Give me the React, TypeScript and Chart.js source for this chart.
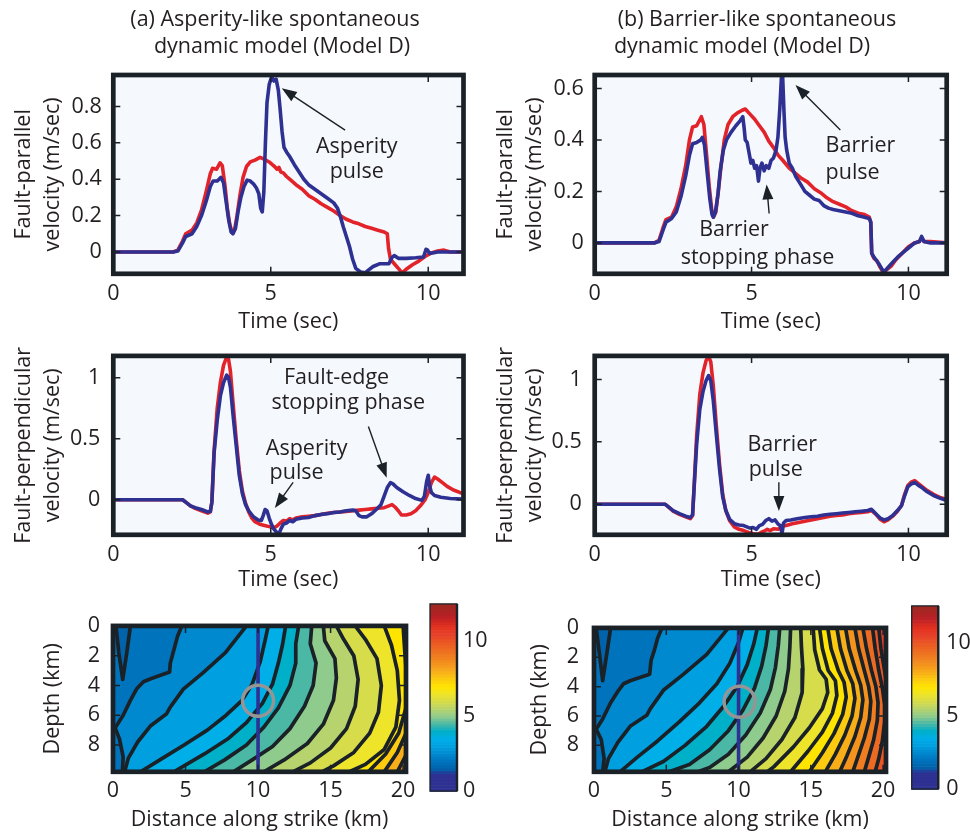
import React, { useEffect, useRef } from 'react';
import { Chart, registerables } from 'chart.js';
Chart.register(...registerables);

const FONT = '"Open Sans", "Noto Sans", sans-serif';
const FS = 21.5;
const INK = '#231f20';
const FRAME = '#1a2228';
const RED = '#e3232a';
const BLUE = '#2e3192';
const BG = '#f5f9fd';

type Pt = [number, number];

// ---------- axis ticks ----------
const timeTicks = [0, 5, 10];
const parTicksA = [0, 0.2, 0.4, 0.6, 0.8];
const parTicksB = [0, 0.2, 0.4, 0.6];
const perpTicks = [0, 0.5, 1];
const distTicks = [0, 5, 10, 15, 20];
const depthTicks = [0, 2, 4, 6, 8];
const cbarTicks = [0, 5, 10];

// ---------- (a) fault-parallel velocity ----------
const aParRed: Pt[] = [[0,0],[1.9,0],[2.05,0.01],[2.2,0.06],[2.3,0.1],[2.5,0.12],[2.65,0.16],[2.8,0.23],[2.96,0.34],[3.08,0.43],[3.15,0.46],[3.28,0.455],[3.39,0.49],[3.46,0.475],[3.55,0.36],[3.62,0.24],[3.7,0.15],[3.78,0.105],[3.85,0.12],[3.93,0.2],[4.02,0.31],[4.12,0.41],[4.23,0.47],[4.35,0.495],[4.5,0.505],[4.66,0.52],[4.8,0.51],[4.95,0.495],[5.05,0.48],[5.12,0.47],[5.2,0.455],[5.26,0.465],[5.32,0.44],[5.4,0.435],[5.5,0.415],[5.6,0.4],[5.7,0.385],[5.8,0.37],[6.0,0.345],[6.2,0.31],[6.4,0.29],[6.6,0.265],[6.8,0.245],[7.0,0.225],[7.2,0.2],[7.4,0.18],[7.6,0.165],[7.8,0.155],[8.0,0.14],[8.2,0.13],[8.4,0.12],[8.6,0.11],[8.7,0.1],[8.74,0.02],[8.8,-0.04],[8.95,-0.07],[9.1,-0.1],[9.18,-0.115],[9.3,-0.095],[9.5,-0.07],[9.7,-0.05],[9.9,-0.025],[10.1,-0.005],[10.3,0.005],[10.5,0.01],[10.7,0.0],[11.12,0.0]];
const aParBlue: Pt[] = [[0,0],[1.9,0],[2.05,0.005],[2.2,0.05],[2.3,0.085],[2.5,0.1],[2.65,0.14],[2.8,0.2],[2.96,0.285],[3.08,0.36],[3.17,0.39],[3.3,0.39],[3.42,0.41],[3.5,0.38],[3.58,0.28],[3.66,0.18],[3.74,0.11],[3.8,0.1],[3.88,0.13],[3.96,0.22],[4.05,0.3],[4.15,0.36],[4.25,0.395],[4.35,0.39],[4.45,0.375],[4.55,0.35],[4.62,0.32],[4.68,0.24],[4.73,0.22],[4.78,0.33],[4.83,0.6],[4.88,0.82],[4.95,0.92],[5.03,0.965],[5.1,0.94],[5.17,0.95],[5.24,0.89],[5.3,0.78],[5.36,0.66],[5.42,0.575],[5.5,0.55],[5.6,0.525],[5.75,0.48],[5.9,0.44],[6.05,0.4],[6.2,0.37],[6.4,0.345],[6.6,0.32],[6.8,0.295],[7.0,0.27],[7.12,0.24],[7.2,0.2],[7.3,0.14],[7.4,0.085],[7.5,0.03],[7.6,-0.04],[7.7,-0.09],[7.85,-0.11],[8.0,-0.115],[8.1,-0.1],[8.25,-0.08],[8.45,-0.065],[8.75,-0.065],[8.85,-0.03],[8.92,-0.02],[9.05,-0.035],[9.3,-0.035],[9.6,-0.032],[9.85,-0.028],[9.93,0.015],[9.98,0.01],[10.05,-0.008],[10.3,0.0],[11.12,0.0]];

// ---------- (b) fault-parallel velocity ----------
const bParRed: Pt[] = [[0,0],[1.9,0],[2.05,0.01],[2.18,0.06],[2.27,0.09],[2.45,0.1],[2.6,0.14],[2.75,0.21],[2.9,0.3],[3.02,0.4],[3.12,0.45],[3.25,0.455],[3.4,0.49],[3.48,0.46],[3.56,0.35],[3.65,0.22],[3.73,0.13],[3.79,0.1],[3.86,0.12],[3.94,0.2],[4.03,0.3],[4.13,0.4],[4.25,0.46],[4.4,0.49],[4.55,0.505],[4.7,0.515],[4.8,0.52],[4.95,0.5],[5.1,0.48],[5.25,0.455],[5.4,0.43],[5.55,0.395],[5.7,0.37],[5.85,0.34],[6.0,0.32],[6.2,0.29],[6.4,0.27],[6.6,0.25],[6.8,0.235],[7.0,0.21],[7.2,0.195],[7.4,0.175],[7.6,0.16],[7.8,0.15],[8.0,0.14],[8.2,0.125],[8.4,0.115],[8.6,0.11],[8.75,0.1],[8.8,0.08],[8.83,-0.04],[8.9,-0.06],[9.0,-0.07],[9.1,-0.095],[9.2,-0.115],[9.3,-0.105],[9.45,-0.09],[9.6,-0.065],[9.8,-0.04],[10.0,-0.015],[10.2,0.0],[10.35,0.005],[10.42,0.02],[10.5,0.005],[10.7,0.005],[11.22,0.0]];
const bParBlue: Pt[] = [[0,0],[1.9,0],[2.05,0.005],[2.18,0.05],[2.27,0.08],[2.45,0.095],[2.6,0.12],[2.75,0.18],[2.9,0.26],[3.02,0.34],[3.12,0.385],[3.25,0.39],[3.38,0.4],[3.43,0.41],[3.5,0.38],[3.58,0.28],[3.67,0.17],[3.74,0.11],[3.78,0.1],[3.85,0.12],[3.93,0.19],[4.0,0.28],[4.1,0.36],[4.2,0.4],[4.35,0.43],[4.5,0.455],[4.64,0.475],[4.72,0.49],[4.76,0.45],[4.8,0.4],[4.86,0.39],[4.92,0.35],[4.98,0.31],[5.04,0.32],[5.1,0.29],[5.16,0.3],[5.22,0.24],[5.27,0.29],[5.33,0.31],[5.4,0.28],[5.47,0.3],[5.55,0.29],[5.62,0.32],[5.7,0.33],[5.78,0.36],[5.84,0.41],[5.9,0.52],[5.95,0.64],[5.99,0.65],[6.03,0.52],[6.07,0.41],[6.12,0.36],[6.2,0.31],[6.3,0.29],[6.4,0.26],[6.55,0.23],[6.7,0.2],[6.85,0.185],[7.0,0.17],[7.15,0.165],[7.3,0.145],[7.45,0.135],[7.6,0.13],[7.8,0.125],[8.0,0.12],[8.2,0.115],[8.4,0.105],[8.6,0.1],[8.75,0.095],[8.8,0.08],[8.83,-0.04],[8.9,-0.055],[9.05,-0.08],[9.15,-0.1],[9.22,-0.113],[9.35,-0.095],[9.5,-0.075],[9.7,-0.05],[9.9,-0.03],[10.05,-0.015],[10.2,0.0],[10.35,0.005],[10.42,0.025],[10.5,0.005],[10.7,0.0],[11.22,0.0]];

// ---------- (a) fault-perpendicular velocity ----------
const aPerpRed: Pt[] = [[0,0],[2.2,0],[2.3,-0.02],[2.45,-0.05],[2.6,-0.07],[2.8,-0.09],[3.0,-0.11],[3.08,-0.1],[3.13,-0.02],[3.2,0.4],[3.3,0.75],[3.4,0.96],[3.5,1.1],[3.6,1.17],[3.66,1.15],[3.72,1.05],[3.8,0.8],[3.9,0.5],[4.0,0.24],[4.1,0.07],[4.2,-0.03],[4.3,-0.1],[4.4,-0.15],[4.5,-0.18],[4.65,-0.2],[4.8,-0.21],[4.95,-0.22],[5.1,-0.23],[5.2,-0.215],[5.3,-0.19],[5.4,-0.17],[5.5,-0.175],[5.6,-0.155],[5.7,-0.165],[5.8,-0.15],[6.0,-0.14],[6.2,-0.135],[6.4,-0.13],[6.6,-0.12],[6.8,-0.11],[7.0,-0.105],[7.2,-0.1],[7.4,-0.095],[7.6,-0.09],[7.8,-0.085],[8.0,-0.08],[8.2,-0.075],[8.4,-0.07],[8.6,-0.065],[8.75,-0.05],[8.85,-0.04],[8.95,-0.06],[9.05,-0.09],[9.15,-0.125],[9.3,-0.125],[9.45,-0.115],[9.6,-0.09],[9.75,-0.05],[9.9,0.0],[10.0,0.06],[10.1,0.14],[10.2,0.185],[10.3,0.17],[10.45,0.14],[10.6,0.11],[10.8,0.08],[11.0,0.06],[11.12,0.05]];
const aPerpBlue: Pt[] = [[0,0],[2.2,0],[2.3,-0.02],[2.45,-0.05],[2.6,-0.065],[2.8,-0.08],[3.0,-0.1],[3.08,-0.095],[3.13,-0.02],[3.2,0.38],[3.3,0.65],[3.4,0.85],[3.5,0.96],[3.6,1.02],[3.66,1.0],[3.72,0.92],[3.8,0.7],[3.9,0.45],[4.0,0.2],[4.1,0.05],[4.2,-0.04],[4.3,-0.09],[4.45,-0.14],[4.6,-0.165],[4.7,-0.17],[4.76,-0.13],[4.82,-0.08],[4.88,-0.09],[4.95,-0.15],[5.02,-0.2],[5.1,-0.24],[5.2,-0.27],[5.26,-0.28],[5.32,-0.24],[5.4,-0.2],[5.5,-0.19],[5.6,-0.17],[5.7,-0.18],[5.8,-0.16],[6.0,-0.15],[6.2,-0.145],[6.4,-0.13],[6.6,-0.12],[6.8,-0.115],[7.0,-0.105],[7.2,-0.1],[7.4,-0.09],[7.6,-0.085],[7.7,-0.09],[7.8,-0.13],[7.9,-0.14],[8.05,-0.14],[8.2,-0.115],[8.35,-0.08],[8.5,-0.04],[8.6,0.03],[8.7,0.1],[8.8,0.14],[8.88,0.13],[9.0,0.1],[9.2,0.065],[9.4,0.035],[9.6,0.01],[9.8,-0.005],[9.88,0.03],[9.95,0.15],[10.0,0.2],[10.04,0.12],[10.1,0.06],[10.2,0.035],[10.4,0.02],[10.7,0.01],[11.12,0.005]];

// ---------- (b) fault-perpendicular velocity ----------
const bPerpRed: Pt[] = [[0,0],[2.25,0],[2.35,-0.02],[2.5,-0.055],[2.7,-0.08],[2.9,-0.1],[3.05,-0.115],[3.12,-0.09],[3.18,0.2],[3.25,0.55],[3.35,0.88],[3.45,1.05],[3.55,1.15],[3.63,1.185],[3.7,1.14],[3.78,0.95],[3.88,0.62],[3.98,0.32],[4.08,0.08],[4.18,-0.05],[4.3,-0.13],[4.45,-0.18],[4.6,-0.2],[4.75,-0.21],[4.9,-0.225],[5.05,-0.235],[5.2,-0.24],[5.3,-0.225],[5.4,-0.215],[5.5,-0.2],[5.6,-0.21],[5.7,-0.195],[5.85,-0.2],[5.95,-0.175],[6.1,-0.17],[6.3,-0.155],[6.5,-0.145],[6.7,-0.135],[6.9,-0.125],[7.1,-0.115],[7.3,-0.105],[7.5,-0.095],[7.7,-0.09],[7.9,-0.085],[8.1,-0.075],[8.3,-0.07],[8.5,-0.065],[8.7,-0.06],[8.82,-0.05],[8.9,-0.065],[9.0,-0.09],[9.1,-0.12],[9.22,-0.14],[9.35,-0.125],[9.5,-0.095],[9.65,-0.055],[9.78,-0.01],[9.88,0.08],[9.98,0.15],[10.1,0.18],[10.2,0.19],[10.3,0.17],[10.45,0.14],[10.6,0.11],[10.8,0.08],[11.0,0.055],[11.22,0.04]];
const bPerpBlue: Pt[] = [[0,0],[2.25,0],[2.35,-0.02],[2.5,-0.05],[2.7,-0.075],[2.9,-0.095],[3.05,-0.105],[3.12,-0.085],[3.18,0.18],[3.25,0.48],[3.35,0.76],[3.45,0.9],[3.55,0.99],[3.63,1.03],[3.7,0.99],[3.78,0.83],[3.88,0.55],[3.98,0.28],[4.08,0.06],[4.18,-0.05],[4.3,-0.12],[4.45,-0.155],[4.6,-0.165],[4.75,-0.17],[4.85,-0.18],[4.95,-0.19],[5.05,-0.185],[5.15,-0.2],[5.25,-0.17],[5.35,-0.16],[5.45,-0.13],[5.55,-0.115],[5.65,-0.135],[5.75,-0.125],[5.85,-0.16],[5.92,-0.17],[5.97,-0.235],[6.02,-0.15],[6.1,-0.13],[6.25,-0.125],[6.45,-0.115],[6.7,-0.105],[6.9,-0.1],[7.1,-0.095],[7.3,-0.085],[7.5,-0.08],[7.7,-0.075],[7.9,-0.07],[8.1,-0.065],[8.3,-0.06],[8.5,-0.055],[8.7,-0.05],[8.82,-0.04],[8.9,-0.06],[9.0,-0.085],[9.1,-0.11],[9.22,-0.125],[9.35,-0.115],[9.5,-0.09],[9.65,-0.05],[9.78,-0.01],[9.88,0.07],[9.98,0.14],[10.1,0.165],[10.2,0.175],[10.3,0.155],[10.45,0.13],[10.6,0.1],[10.8,0.07],[11.0,0.05],[11.22,0.03]];

// ---------- rupture-time contours: [level (s), polyline (km along strike, km depth)] ----------
const contoursA: [number, Pt[]][] = [
  [2.0, [[0.2,0],[0.4,1.8],[0.67,3.6],[0.95,1.8],[1.2,0]]],
  [2.5, [[4.75,0],[4.45,0.7],[4.2,1.6],[3.95,2.5],[3.9,3.1],[2.6,3.55],[2.1,3.75],[1.65,4.2],[1.2,5.0],[0.7,6.0],[0.15,6.85],[0.45,7.6],[0.7,8.8],[0.65,9.8]]],
  [3.0, [[9.2,0],[7.75,1.8],[6.2,3.15],[4.85,4.25],[3.95,5.45],[3.7,5.9],[2.6,6.7],[1.7,7.8],[1.05,8.9],[0.8,9.8]]],
  [3.5, [[10.7,0],[10.5,0.9],[10.15,2.4],[9.6,3.9],[8.9,5.0],[7.8,6.0],[6.5,7.0],[4.9,8.0],[3.4,8.9],[1.9,9.8]]],
  [4.0, [[11.9,0],[11.7,1.2],[11.4,2.5],[11.0,3.9],[10.3,5.2],[9.2,6.5],[7.9,7.6],[6.3,8.6],[4.2,9.8]]],
  [4.5, [[12.8,0],[12.6,1.2],[12.6,2.5],[12.2,4.0],[11.4,5.5],[10.4,6.8],[9.2,8.0],[7.7,9.0],[6.3,9.8]]],
  [5.0, [[13.7,0],[13.6,1.2],[14.0,2.5],[13.8,4.0],[13.2,5.4],[12.2,6.9],[11.0,8.1],[9.6,9.0],[8.3,9.8]]],
  [5.5, [[14.5,0],[14.6,1.0],[15.3,2.2],[15.4,3.5],[15.2,5.0],[14.5,6.6],[13.4,7.9],[11.8,9.0],[10.4,9.8]]],
  [6.0, [[15.4,0],[15.9,0.9],[16.6,2.0],[16.9,3.6],[16.7,5.4],[16.1,6.9],[15.0,8.2],[13.6,9.2],[12.4,9.8]]],
  [6.5, [[16.7,0],[17.4,0.9],[18.2,2.2],[18.5,4.0],[18.3,5.8],[17.7,7.2],[16.6,8.5],[15.2,9.4],[14.4,9.8]]],
  [7.0, [[18.7,0],[19.2,1.3],[19.6,3.0],[19.75,5.0],[19.5,6.8],[18.7,8.3],[17.4,9.3],[16.3,9.8]]],
  [7.5, [[20.0,0],[20.1,1.5],[20.25,3.5],[20.2,5.5],[19.7,7.2],[18.8,8.6],[17.6,9.8]]],
  [8.0, [[21.5,0],[21.0,5.0],[20.3,7.0],[19.6,8.5],[18.7,9.8]]],
  [8.5, [[22.0,0],[21.5,6.0],[20.3,8.5],[19.6,9.8]]],
];
const contoursB: [number, Pt[]][] = [
  [2.0, [[0.15,0],[0.38,1.8],[0.6,3.6],[0.88,1.8],[1.15,0]]],
  [2.5, [[4.7,0],[4.4,0.7],[4.15,1.6],[3.95,2.2],[3.85,3.15],[2.5,3.6],[2.05,3.8],[1.7,4.25],[1.15,5.1],[0.6,6.2],[0.15,6.9],[0.5,7.6],[0.7,8.9],[0.6,9.8]]],
  [3.0, [[9.3,0],[7.8,1.8],[6.2,3.15],[4.8,4.25],[3.9,5.5],[3.65,5.95],[2.5,6.7],[1.65,7.8],[1.0,8.9],[0.75,9.8]]],
  [3.5, [[10.3,0],[10.0,1.0],[9.4,2.4],[8.5,3.8],[7.3,5.1],[5.9,6.4],[4.4,7.7],[3.0,8.8],[1.8,9.8]]],
  [4.0, [[11.3,0],[11.05,1.1],[10.6,2.5],[9.9,4.0],[9.0,5.3],[7.8,6.7],[6.3,8.0],[4.8,9.1],[3.3,9.8]]],
  [4.5, [[12.07,0],[11.9,1.2],[11.6,2.6],[11.1,4.1],[10.3,5.6],[9.3,7.0],[8.0,8.3],[6.6,9.3],[5.2,9.8]]],
  [5.0, [[12.85,0],[12.75,1.2],[12.55,2.7],[12.2,4.2],[11.5,5.8],[10.5,7.3],[9.3,8.6],[8.0,9.5],[7.2,9.8]]],
  [5.5, [[13.6,0],[13.55,1.3],[13.45,2.8],[13.2,4.3],[12.6,6.0],[11.7,7.5],[10.6,8.8],[9.3,9.8]]],
  [6.0, [[14.3,0],[14.35,1.3],[14.45,2.8],[14.4,4.4],[13.9,6.1],[13.0,7.6],[11.9,8.9],[10.8,9.8]]],
  [6.5, [[15.16,0],[15.27,1.5],[15.6,2.87],[16.06,3.5],[16.17,4.4],[15.8,5.5],[14.9,6.8],[13.8,8.1],[12.45,9.45],[12.0,9.8]]],
  [7.0, [[15.6,0],[15.8,1.4],[16.2,2.9],[16.7,3.6],[16.8,4.6],[16.5,5.8],[15.8,7.1],[14.8,8.4],[13.6,9.8]]],
  [7.5, [[16.17,0],[16.4,1.4],[16.9,2.9],[17.3,3.7],[17.45,4.7],[17.2,5.9],[16.6,7.2],[15.8,8.5],[14.9,9.8]]],
  [8.0, [[16.8,0],[17.05,1.4],[17.5,2.9],[17.9,3.8],[18.05,4.8],[17.85,6.0],[17.35,7.3],[16.7,8.6],[16.0,9.8]]],
  [8.5, [[17.4,0],[17.65,1.4],[18.1,2.9],[18.45,3.9],[18.6,4.9],[18.45,6.1],[18.05,7.4],[17.5,8.7],[17.0,9.8]]],
  [9.0, [[18.05,0],[18.3,1.4],[18.7,2.9],[19.0,4.0],[19.15,5.0],[19.05,6.2],[18.7,7.5],[18.25,8.8],[17.9,9.8]]],
  [9.5, [[18.6,0],[18.85,1.4],[19.2,2.9],[19.5,4.0],[19.65,5.1],[19.6,6.3],[19.35,7.6],[19.0,8.8],[18.7,9.8]]],
  [10.0, [[19.27,0],[19.45,1.4],[19.7,2.9],[19.95,4.1],[20.1,5.2],[20.1,6.4],[19.95,7.7],[19.7,8.9],[19.45,9.8]]],
  [10.5, [[19.7,0],[19.85,1.4],[20.1,2.9],[20.3,4.1],[20.5,5.2],[20.6,6.4],[20.5,7.7],[20.3,8.9],[20.1,9.8]]],
];
// station line (km along strike) and marker circles (km along strike, km depth)
const stationX = 10.0;
const hypoMarkA: Pt = [10.0, 5.03];
const hypoMarkB: Pt = [10.07, 5.03];

// colour map of rupture time (s)
const cmapStops: [number, string][] = [
  [0, '#2e3192'], [1.15, '#2e3192'], [1.5, '#0063ab'], [2.0, '#0073bd'], [2.5, '#0089ce'], [3.0, '#00a0e0'],
  [3.5, '#00aee8'], [4.0, '#00b0c8'], [4.5, '#4bb8a5'], [5.0, '#8fcb8c'], [5.5, '#b6d36d'], [6.0, '#d6dc4a'],
  [6.5, '#eee52a'], [7.0, '#ffe400'], [7.5, '#fccb10'], [8.0, '#f8ae19'], [8.5, '#f4941d'], [9.0, '#f07e20'],
  [9.5, '#ed6a22'], [10.0, '#ea5523'], [10.5, '#e6402a'], [11.0, '#e3311f'], [11.7, '#b81f26'], [12.5, '#9b2a22'],
];

function hexToRgb(h: string) {
  const n = parseInt(h.slice(1), 16);
  return [(n >> 16) & 255, (n >> 8) & 255, n & 255];
}
function cmap(v: number) {
  const s = cmapStops;
  if (v <= s[0][0]) return s[0][1];
  if (v >= s[s.length - 1][0]) return s[s.length - 1][1];
  for (let i = 0; i < s.length - 1; i++) {
    if (v >= s[i][0] && v <= s[i + 1][0]) {
      const f = (v - s[i][0]) / (s[i + 1][0] - s[i][0]);
      const a = hexToRgb(s[i][1]);
      const b = hexToRgb(s[i + 1][1]);
      const c = a.map((x, k) => Math.round(x + (b[k] - x) * f));
      return `rgb(${c[0]},${c[1]},${c[2]})`;
    }
  }
  return s[0][1];
}

const toXY = (a: Pt[]) => a.map(([x, y]) => ({ x, y }));

type Area = { l: number; t: number; r: number; b: number };
type Geo = { x0: number; y0: number; w: number; h: number; area: Area };

const G: Record<string, Geo> = {
  a1: { x0: 0, y0: 0, w: 475, h: 335, area: { l: 113.3, t: 75, r: 463.5, b: 273.8 } },
  a2: { x0: 0, y0: 330, w: 475, h: 263, area: { l: 113.3, t: 336.7, r: 463.5, b: 534.8 } },
  a3: { x0: 0, y0: 600, w: 425, h: 234, area: { l: 113, t: 624, r: 413, b: 771.8 } },
  ac: { x0: 425, y0: 585, w: 65, h: 225, area: { l: 430, t: 598, r: 457, b: 798 } },
  b1: { x0: 482, y0: 0, w: 478, h: 335, area: { l: 594.7, t: 75, r: 946.7, b: 273.8 } },
  b2: { x0: 482, y0: 330, w: 478, h: 263, area: { l: 594.7, t: 336.7, r: 946.7, b: 534.8 } },
  b3: { x0: 482, y0: 600, w: 423, h: 234, area: { l: 594, t: 624, r: 893, b: 771.8 } },
  bc: { x0: 905, y0: 585, w: 65, h: 225, area: { l: 911.7, t: 598.3, r: 938.3, b: 797.3 } },
};

type Ann =
  | { kind: 'text'; x: number; y: number; s: string; align?: CanvasTextAlign }
  | { kind: 'arrow'; x1: number; y1: number; x2: number; y2: number };
type PageText = { x: number; y: number; s: string };

const font = (size = FS) => ({ family: FONT, size, lineHeight: 1.2 });

function drawArrow(ctx: CanvasRenderingContext2D, x1: number, y1: number, x2: number, y2: number) {
  const ang = Math.atan2(y2 - y1, x2 - x1);
  const L = 15, W = 5.5;
  ctx.strokeStyle = FRAME;
  ctx.fillStyle = FRAME;
  ctx.lineWidth = 1.4;
  ctx.beginPath();
  ctx.moveTo(x1, y1);
  ctx.lineTo(x2 - Math.cos(ang) * L * 0.8, y2 - Math.sin(ang) * L * 0.8);
  ctx.stroke();
  ctx.beginPath();
  ctx.moveTo(x2, y2);
  ctx.lineTo(x2 - Math.cos(ang) * L + Math.sin(ang) * W, y2 - Math.sin(ang) * L - Math.cos(ang) * W);
  ctx.lineTo(x2 - Math.cos(ang) * L - Math.sin(ang) * W, y2 - Math.sin(ang) * L + Math.cos(ang) * W);
  ctx.closePath();
  ctx.fill();
}

function decorPlugin(anns: Ann[], pageTexts: PageText[], geo: Geo, bg: string | null) {
  return {
    id: 'decor',
    beforeDatasetsDraw(chart: any) {
      if (!bg) return;
      const { ctx, chartArea: a } = chart;
      ctx.save();
      ctx.fillStyle = bg;
      ctx.fillRect(a.left, a.top, a.right - a.left, a.bottom - a.top);
      ctx.restore();
    },
    afterDatasetsDraw(chart: any) {
      const { ctx, chartArea: a, scales } = chart;
      const xs = scales.x, ys = scales.y;
      ctx.save();
      ctx.strokeStyle = FRAME;
      ctx.lineWidth = 1.5;
      ctx.beginPath();
      for (const t of xs.ticks) {
        const p = xs.getPixelForValue(t.value);
        ctx.moveTo(p, a.bottom); ctx.lineTo(p, a.bottom - 7);
        ctx.moveTo(p, a.top); ctx.lineTo(p, a.top + 7);
      }
      for (const t of ys.ticks) {
        const p = ys.getPixelForValue(t.value);
        ctx.moveTo(a.left, p); ctx.lineTo(a.left + 7, p);
        ctx.moveTo(a.right, p); ctx.lineTo(a.right - 7, p);
      }
      ctx.stroke();
      ctx.lineWidth = 4.7;
      ctx.lineJoin = 'miter';
      ctx.strokeRect(a.left, a.top, a.right - a.left, a.bottom - a.top);
      ctx.font = `${FS}px ${FONT}`;
      ctx.textBaseline = 'middle';
      for (const an of anns) {
        if (an.kind === 'text') {
          ctx.fillStyle = INK;
          ctx.textAlign = an.align || 'center';
          ctx.fillText(an.s, xs.getPixelForValue(an.x), ys.getPixelForValue(an.y));
        } else {
          drawArrow(ctx, xs.getPixelForValue(an.x1), ys.getPixelForValue(an.y1), xs.getPixelForValue(an.x2), ys.getPixelForValue(an.y2));
        }
      }
      ctx.textAlign = 'center';
      ctx.fillStyle = INK;
      for (const t of pageTexts) ctx.fillText(t.s, t.x - geo.x0, t.y - geo.y0);
      ctx.restore();
    },
  };
}

function axisBase(ticks: number[], min: number, max: number) {
  return {
    type: 'linear' as const,
    min,
    max,
    afterBuildTicks: (s: any) => { s.ticks = ticks.map((v) => ({ value: v })); },
    grid: { display: false, drawTicks: false },
    border: { display: false },
    ticks: { font: font(), color: INK, autoSkip: false, maxRotation: 0, callback: (v: any) => String(v) },
  };
}

const yTitleFont = { family: FONT, size: FS, lineHeight: 1.33 };

function waveConfig(geo: Geo, red: Pt[], blue: Pt[], xMax: number, yMin: number, yMax: number, yTicks: number[], yTitle: string[], yPad: number, anns: Ann[], pageTexts: PageText[]) {
  const { x0, y0, w, h, area } = geo;
  const yW = area.l - x0;
  const xH = y0 + h - area.b;
  return {
    type: 'scatter',
    data: {
      datasets: [
        { data: toXY(blue), borderColor: BLUE, borderWidth: 3.6, showLine: true, pointRadius: 0, borderJoinStyle: 'round' },
        { data: toXY(red), borderColor: RED, borderWidth: 3.6, showLine: true, pointRadius: 0, borderJoinStyle: 'round' },
      ],
    },
    options: {
      animation: false,
      responsive: false,
      events: [],
      layout: { padding: { left: 0, top: area.t - y0, right: x0 + w - area.r, bottom: 0 } },
      plugins: { legend: { display: false }, tooltip: { enabled: false } },
      scales: {
        x: {
          ...axisBase(timeTicks, 0, xMax),
          position: 'bottom',
          afterFit: (s: any) => { s.height = xH; },
          ticks: { ...axisBase(timeTicks, 0, xMax).ticks, padding: 7 },
          title: { display: true, text: 'Time (sec)', font: font(), color: INK, padding: { top: 0, bottom: 0.5 } },
        },
        y: {
          ...axisBase(yTicks, yMin, yMax),
          position: 'left',
          afterFit: (s: any) => { s.width = yW; },
          ticks: { ...axisBase(yTicks, yMin, yMax).ticks, padding: yPad },
          title: { display: true, text: yTitle, font: yTitleFont, color: INK, padding: { top: 9.5, bottom: 0 } },
        },
      },
    },
    plugins: [decorPlugin(anns, pageTexts, geo, BG)],
  };
}

function contourPlugin(contours: [number, Pt[]][]) {
  return {
    id: 'contourFill',
    beforeDatasetsDraw(chart: any) {
      const { ctx, chartArea: a, scales } = chart;
      const px = (v: number) => scales.x.getPixelForValue(v);
      const py = (v: number) => scales.y.getPixelForValue(v);
      ctx.save();
      ctx.beginPath();
      ctx.rect(a.left, a.top, a.right - a.left, a.bottom - a.top);
      ctx.clip();
      ctx.fillStyle = cmap(contours[0][0]);
      ctx.fillRect(a.left, a.top, a.right - a.left, a.bottom - a.top);
      contours.forEach(([lev, pts], i) => {
        ctx.beginPath();
        ctx.moveTo(px(pts[0][0]), py(-5));
        pts.forEach(([x, z]) => ctx.lineTo(px(x), py(z)));
        const last = pts[pts.length - 1];
        if (i === 0) {
          ctx.lineTo(px(last[0]), py(-5));
          ctx.fillStyle = cmap(lev - 0.5);
        } else {
          ctx.lineTo(px(last[0]), py(20));
          ctx.lineTo(px(60), py(20));
          ctx.lineTo(px(60), py(-5));
          ctx.fillStyle = cmap(lev);
        }
        ctx.closePath();
        ctx.fill();
      });
      ctx.restore();
    },
  };
}

function contourConfig(geo: Geo, contours: [number, Pt[]][], mark: Pt, yTitlePad: number, yTickPad: number) {
  const { x0, y0, w, h, area } = geo;
  const yW = area.l - x0;
  const xH = y0 + h - area.b;
  const datasets: any[] = [];
  datasets.push({ data: [{ x: mark[0], y: mark[1] }], showLine: false, pointRadius: 15.5, pointBorderWidth: 3.5, pointBorderColor: '#959595', pointBackgroundColor: 'rgba(0,0,0,0)' });
  datasets.push({ data: [{ x: stationX, y: 0 }, { x: stationX, y: 9.8 }], borderColor: BLUE, borderWidth: 3.6, showLine: true, pointRadius: 0 });
  contours.forEach(([, pts]) => datasets.push({
    data: toXY(pts), borderColor: FRAME, borderWidth: 3.7, showLine: true, pointRadius: 0,
    borderJoinStyle: 'round', borderCapStyle: 'round',
  }));
  return {
    type: 'scatter',
    data: { datasets },
    options: {
      animation: false,
      responsive: false,
      events: [],
      layout: { padding: { left: 0, top: area.t - y0, right: x0 + w - area.r, bottom: 0 } },
      plugins: { legend: { display: false }, tooltip: { enabled: false } },
      scales: {
        x: {
          ...axisBase(distTicks, 0, 20.2),
          position: 'bottom',
          afterFit: (s: any) => { s.height = xH; },
          ticks: { ...axisBase(distTicks, 0, 20.2).ticks, padding: 6 },
          title: { display: true, text: 'Distance along strike (km)', font: font(), color: INK, padding: { top: 0, bottom: 1.5 } },
        },
        y: {
          ...axisBase(depthTicks, 0, 9.8),
          reverse: true,
          position: 'left',
          afterFit: (s: any) => { s.width = yW; },
          ticks: { ...axisBase(depthTicks, 0, 9.8).ticks, padding: yTickPad },
          title: { display: true, text: 'Depth (km)', font: yTitleFont, color: INK, padding: { top: yTitlePad, bottom: 0 } },
        },
      },
    },
    plugins: [contourPlugin(contours), decorPlugin([], [], geo, null)],
  };
}

function colorbarConfig(geo: Geo, tickPad: number) {
  const { x0, y0, w, h, area } = geo;
  const yW = x0 + w - area.r;
  return {
    type: 'scatter',
    data: { datasets: [{ data: [] as any[] }] },
    options: {
      animation: false,
      responsive: false,
      events: [],
      layout: { padding: { left: area.l - x0, top: area.t - y0, right: 0, bottom: y0 + h - area.b } },
      plugins: { legend: { display: false }, tooltip: { enabled: false } },
      scales: {
        x: { type: 'linear', min: 0, max: 1, display: false },
        y: {
          ...axisBase(cbarTicks, 0, 12.5),
          position: 'right',
          afterFit: (s: any) => { s.width = yW; },
          ticks: { ...axisBase(cbarTicks, 0, 12.5).ticks, padding: tickPad },
        },
      },
    },
    plugins: [{
      id: 'cbar',
      beforeDatasetsDraw(chart: any) {
        const { ctx, chartArea: a, scales } = chart;
        const ys = scales.y;
        const n = 64;
        ctx.save();
        for (let i = 0; i < n; i++) {
          const v0 = (12.5 * i) / n, v1 = (12.5 * (i + 1)) / n;
          const p0 = ys.getPixelForValue(v0), p1 = ys.getPixelForValue(v1);
          ctx.fillStyle = cmap((v0 + v1) / 2);
          ctx.fillRect(a.left, p1, a.right - a.left, p0 - p1 + 0.6);
        }
        ctx.strokeStyle = FRAME;
        ctx.lineWidth = 1.3;
        ctx.strokeRect(a.left, a.top, a.right - a.left, a.bottom - a.top);
        ctx.lineWidth = 2.4;
        ctx.beginPath();
        ctx.moveTo(a.right, a.top); ctx.lineTo(a.right, a.bottom);
        ctx.stroke();
        ctx.restore();
      },
    }],
  };
}

function ChartBox({ geo, make }: { geo: Geo; make: () => any }) {
  const ref = useRef<HTMLCanvasElement>(null);
  useEffect(() => {
    const chart = new Chart(ref.current as HTMLCanvasElement, make());
    return () => chart.destroy();
  }, []);
  return (
    <canvas
      ref={ref}
      width={geo.w}
      height={geo.h}
      style={{ position: 'absolute', left: geo.x0, top: geo.y0, width: geo.w, height: geo.h }}
    />
  );
}

const annA1: Ann[] = [
  { kind: 'arrow', x1: 7.36, y1: 0.67, x2: 5.35, y2: 0.9 },
  { kind: 'text', x: 7.73, y: 0.58, s: 'Asperity' },
  { kind: 'text', x: 7.73, y: 0.44, s: 'pulse' },
];
const annB1: Ann[] = [
  { kind: 'arrow', x1: 7.83, y1: 0.438, x2: 6.4, y2: 0.613 },
  { kind: 'text', x: 7.36, y: 0.377, s: 'Barrier', align: 'left' },
  { kind: 'text', x: 7.36, y: 0.271, s: 'pulse', align: 'left' },
  { kind: 'arrow', x1: 5.56, y1: 0.114, x2: 5.48, y2: 0.227 },
  { kind: 'text', x: 4.44, y: 0.052, s: 'Barrier' },
  { kind: 'text', x: 5.19, y: -0.058, s: 'stopping phase' },
];
const annA2: Ann[] = [
  { kind: 'text', x: 7.09, y: 1.0, s: 'Fault-edge' },
  { kind: 'text', x: 7.46, y: 0.793, s: 'stopping phase' },
  { kind: 'arrow', x1: 8.1, y1: 0.6, x2: 8.68, y2: 0.18 },
  { kind: 'text', x: 6.14, y: 0.415, s: 'Asperity' },
  { kind: 'text', x: 5.82, y: 0.217, s: 'pulse' },
  { kind: 'arrow', x1: 5.71, y1: 0.143, x2: 5.13, y2: -0.067 },
];
const annB2: Ann[] = [
  { kind: 'text', x: 5.98, y: 0.477, s: 'Barrier' },
  { kind: 'text', x: 5.77, y: 0.272, s: 'pulse' },
  { kind: 'arrow', x1: 5.87, y1: 0.176, x2: 5.87, y2: -0.053 },
];
const titleA: PageText[] = [
  { x: 275, y: 20, s: '(a) Asperity-like spontaneous' },
  { x: 282, y: 47, s: 'dynamic model (Model D)' },
];
const titleB: PageText[] = [
  { x: 757, y: 20, s: '(b) Barrier-like spontaneous' },
  { x: 742, y: 47, s: 'dynamic model (Model D)' },
];

export default function App() {
  return (
    <div style={{ position: 'absolute', left: 0, top: 0, width: 970, height: 834, background: '#ffffff', overflow: 'hidden' }}>
      <ChartBox geo={G.a1} make={() => waveConfig(G.a1, aParRed, aParBlue, 11.12, -0.12, 0.973, parTicksA, ['Fault-parallel', 'velocity (m/sec)'], 11.5, annA1, titleA)} />
      <ChartBox geo={G.b1} make={() => waveConfig(G.b1, bParRed, bParBlue, 11.22, -0.12, 0.652, parTicksB, ['Fault-parallel', 'velocity (m/sec)'], 11, annB1, titleB)} />
      <ChartBox geo={G.a2} make={() => waveConfig(G.a2, aPerpRed, aPerpBlue, 11.12, -0.287, 1.178, perpTicks, ['Fault-perpendicular', 'velocity (m/sec)'], 13, annA2, [])} />
      <ChartBox geo={G.b2} make={() => waveConfig(G.b2, bPerpRed, bPerpBlue, 11.22, -0.244, 1.188, perpTicks, ['Fault-perpendicular', 'velocity (m/sec)'], 13, annB2, [])} />
      <ChartBox geo={G.a3} make={() => contourConfig(G.a3, contoursA, hypoMarkA, 39, 13)} />
      <ChartBox geo={G.b3} make={() => contourConfig(G.b3, contoursB, hypoMarkB, 44, 15)} />
      <ChartBox geo={G.ac} make={() => colorbarConfig(G.ac, 6)} />
      <ChartBox geo={G.bc} make={() => colorbarConfig(G.bc, 8)} />
    </div>
  );
}
